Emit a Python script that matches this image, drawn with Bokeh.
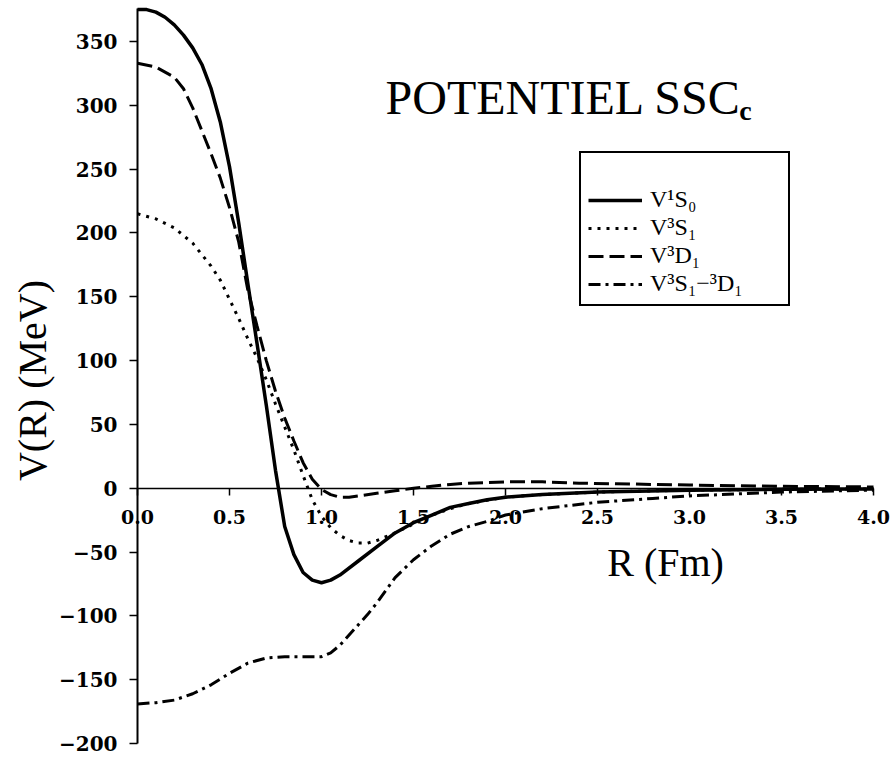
import math
from bokeh.plotting import figure
from bokeh.models import Range1d, Legend, LegendItem, Label, FixedTicker
from bokeh.embed import file_html
from bokeh.resources import INLINE

# ---- data ----
r_1s0 = [0.0, 0.05, 0.1, 0.15, 0.2, 0.25, 0.3, 0.35, 0.4, 0.45, 0.5, 0.55, 0.6, 0.65, 0.7, 0.75,
         0.8, 0.85, 0.9, 0.95, 1.0, 1.05, 1.1, 1.2, 1.3, 1.4, 1.5, 1.6, 1.7, 1.8, 1.9, 2.0, 2.2,
         2.5, 3.0, 3.5, 4.0]
v_1s0 = [375, 375, 373, 369, 363, 355, 345, 332, 313, 287, 252, 208, 160, 113, 65, 14,
         -30, -52, -66, -72, -74, -72, -68, -57, -46, -35, -27, -21, -15, -12, -9, -7, -5,
         -3, -1.5, -0.8, -0.5]

r_3s1 = [0.0, 0.1, 0.2, 0.3, 0.4, 0.45, 0.5, 0.55, 0.6, 0.65, 0.7, 0.75, 0.8, 0.85, 0.9, 0.95,
         1.0, 1.05, 1.1, 1.15, 1.2, 1.25, 1.3, 1.35, 1.4, 1.5, 1.6, 1.7, 1.8, 2.0, 2.2, 2.5,
         3.0, 3.5, 4.0]
v_3s1 = [215, 211, 204, 192, 174, 163, 148, 133, 117, 102, 85, 66, 48, 30, 10, -9,
         -22, -31, -37, -41, -43, -43, -41, -38, -35, -28, -21, -16, -12, -7, -5, -3,
         -1.5, -0.8, -0.5]

r_3d1 = [0.0, 0.1, 0.2, 0.25, 0.3, 0.35, 0.4, 0.45, 0.5, 0.55, 0.6, 0.65, 0.7, 0.75, 0.8, 0.85,
         0.9, 0.95, 1.0, 1.05, 1.1, 1.15, 1.2, 1.3, 1.4, 1.5, 1.6, 1.7, 1.8, 2.0, 2.2, 2.4,
         2.6, 3.0, 3.5, 4.0]
v_3d1 = [333, 330, 322, 313, 298, 280, 262, 243, 220, 193, 155, 127, 100, 76, 55, 37,
         20, 7, -1, -5, -7, -7, -6, -4, -2, 0, 1.5, 3, 4, 5, 5, 4,
         3.5, 2.5, 1.5, 1]

r_mix = [0.0, 0.1, 0.2, 0.3, 0.4, 0.5, 0.6, 0.7, 0.8, 0.9, 1.0, 1.05, 1.1, 1.15, 1.2, 1.25,
         1.3, 1.35, 1.4, 1.5, 1.6, 1.7, 1.8, 1.9, 2.0, 2.2, 2.5, 2.8, 3.0, 3.5, 4.0]
v_mix = [-169, -168, -166, -161, -154, -145, -137, -133, -132, -132, -132, -129, -123, -115, -107, -99,
         -90, -80, -70, -56, -45, -36, -30, -26, -21, -16, -11, -8, -6, -3, -1.5]

series_labels = ["V\u00b9S\u2080", "V\u00b3S\u2081", "V\u00b3D\u2081", "V\u00b3S\u2081\u2212\u00b3D\u2081"]

x_ticks = [0.0, 0.5, 1.0, 1.5, 2.0, 2.5, 3.0, 3.5, 4.0]
x_tick_labels = ["0.0", "0.5", "1.0", "1.5", "2.0", "2.5", "3.0", "3.5", "4.0"]
y_ticks = [-200, -150, -100, -50, 0, 50, 100, 150, 200, 250, 300, 350]
y_tick_labels = ["\u2212200", "\u2212150", "\u2212100", "\u221250", "0", "50", "100", "150",
                 "200", "250", "300", "350"]
x_axis_extent = (0.0, 4.0)
y_axis_extent = (-200, 376)

title_text = "POTENTIEL SSC"
title_sub = "c"
x_title = "R (Fm)"
y_title = "V(R) (MeV)"

# ---- figure: the frame fills the canvas, both axes sit at 0 ----
W, H = 895, 757
p = figure(width=W, height=H, output_backend="svg", toolbar_location=None,
           x_range=Range1d(-0.74457, 4.11957), y_range=Range1d(-210.96, 382.13),
           min_border_left=0, min_border_right=0, min_border_top=0, min_border_bottom=0)
p.background_fill_color = "white"
p.border_fill_color = "white"
p.outline_line_color = None
p.grid.grid_line_color = None

tick_font = "DejaVu Serif"
serif = "Liberation Serif"

xa = p.xaxis[0]
xa.fixed_location = 0
xa.bounds = x_axis_extent
xa.ticker = FixedTicker(ticks=x_ticks)
xa.major_label_overrides = {t: s for t, s in zip(x_ticks, x_tick_labels)}
xa.axis_line_width = 1.5
xa.axis_line_color = "black"
xa.major_tick_line_width = 1.5
xa.major_tick_out = 7
xa.major_tick_in = 0
xa.minor_tick_line_color = None
xa.major_label_standoff = 15
xa.major_label_text_font = tick_font
xa.major_label_text_font_style = "bold"
xa.major_label_text_font_size = "19px"
xa.major_label_text_color = "black"

ya = p.yaxis[0]
ya.fixed_location = 0
ya.bounds = y_axis_extent
ya.ticker = FixedTicker(ticks=y_ticks)
ya.major_label_overrides = {t: s for t, s in zip(y_ticks, y_tick_labels)}
ya.axis_line_width = 2
ya.axis_line_color = "black"
ya.major_tick_line_width = 1.5
ya.major_tick_out = 8
ya.major_tick_in = 0
ya.minor_tick_line_color = None
ya.major_label_standoff = 12
ya.major_label_text_font = tick_font
ya.major_label_text_font_style = "bold"
ya.major_label_text_font_size = "20px"
ya.major_label_text_color = "black"

l1 = p.line(r_1s0, v_1s0, line_color="black", line_width=3.5)
l2 = p.line(r_3s1, v_3s1, line_color="black", line_width=3, line_dash="3 6")
l3 = p.line(r_3d1, v_3d1, line_color="black", line_width=3, line_dash="15 6")
l4 = p.line(r_mix, v_mix, line_color="black", line_width=3, line_dash="12 5 3 5")

legend = Legend(items=[LegendItem(label=lab, renderers=[r]) for lab, r in
                       zip(series_labels, [l1, l2, l3, l4])],
                location=(579, 451), orientation="vertical",
                title=" ", title_text_font_size="20px", title_standoff=3,
                padding=7, spacing=1, margin=0,
                glyph_width=54, glyph_height=24, label_height=24, label_width=131,
                label_standoff=8,
                label_text_font=serif, label_text_font_size="24px", label_text_color="black",
                border_line_color="black", border_line_width=2, border_line_alpha=1.0,
                background_fill_color="white", background_fill_alpha=1.0)
p.add_layout(legend, "center")

p.add_layout(Label(x=1.348, y=305.8, text=title_text, text_font=serif, text_font_size="48px",
                   text_baseline="middle", text_align="left", text_color="black"))
p.add_layout(Label(x=3.27, y=295.9, text=title_sub, text_font=serif, text_font_size="28px",
                   text_font_style="bold", text_baseline="middle", text_align="left",
                   text_color="black"))
p.add_layout(Label(x=2.87, y=-58.2, text=x_title, text_font=serif, text_font_size="40px",
                   text_baseline="middle", text_align="center", text_color="black"))
p.add_layout(Label(x=-0.5707, y=84.4, text=y_title, angle=math.pi / 2, text_font=serif,
                   text_font_size="40px", text_baseline="middle", text_align="center",
                   text_color="black"))

open("out.html", "w").write(file_html(p, INLINE))
